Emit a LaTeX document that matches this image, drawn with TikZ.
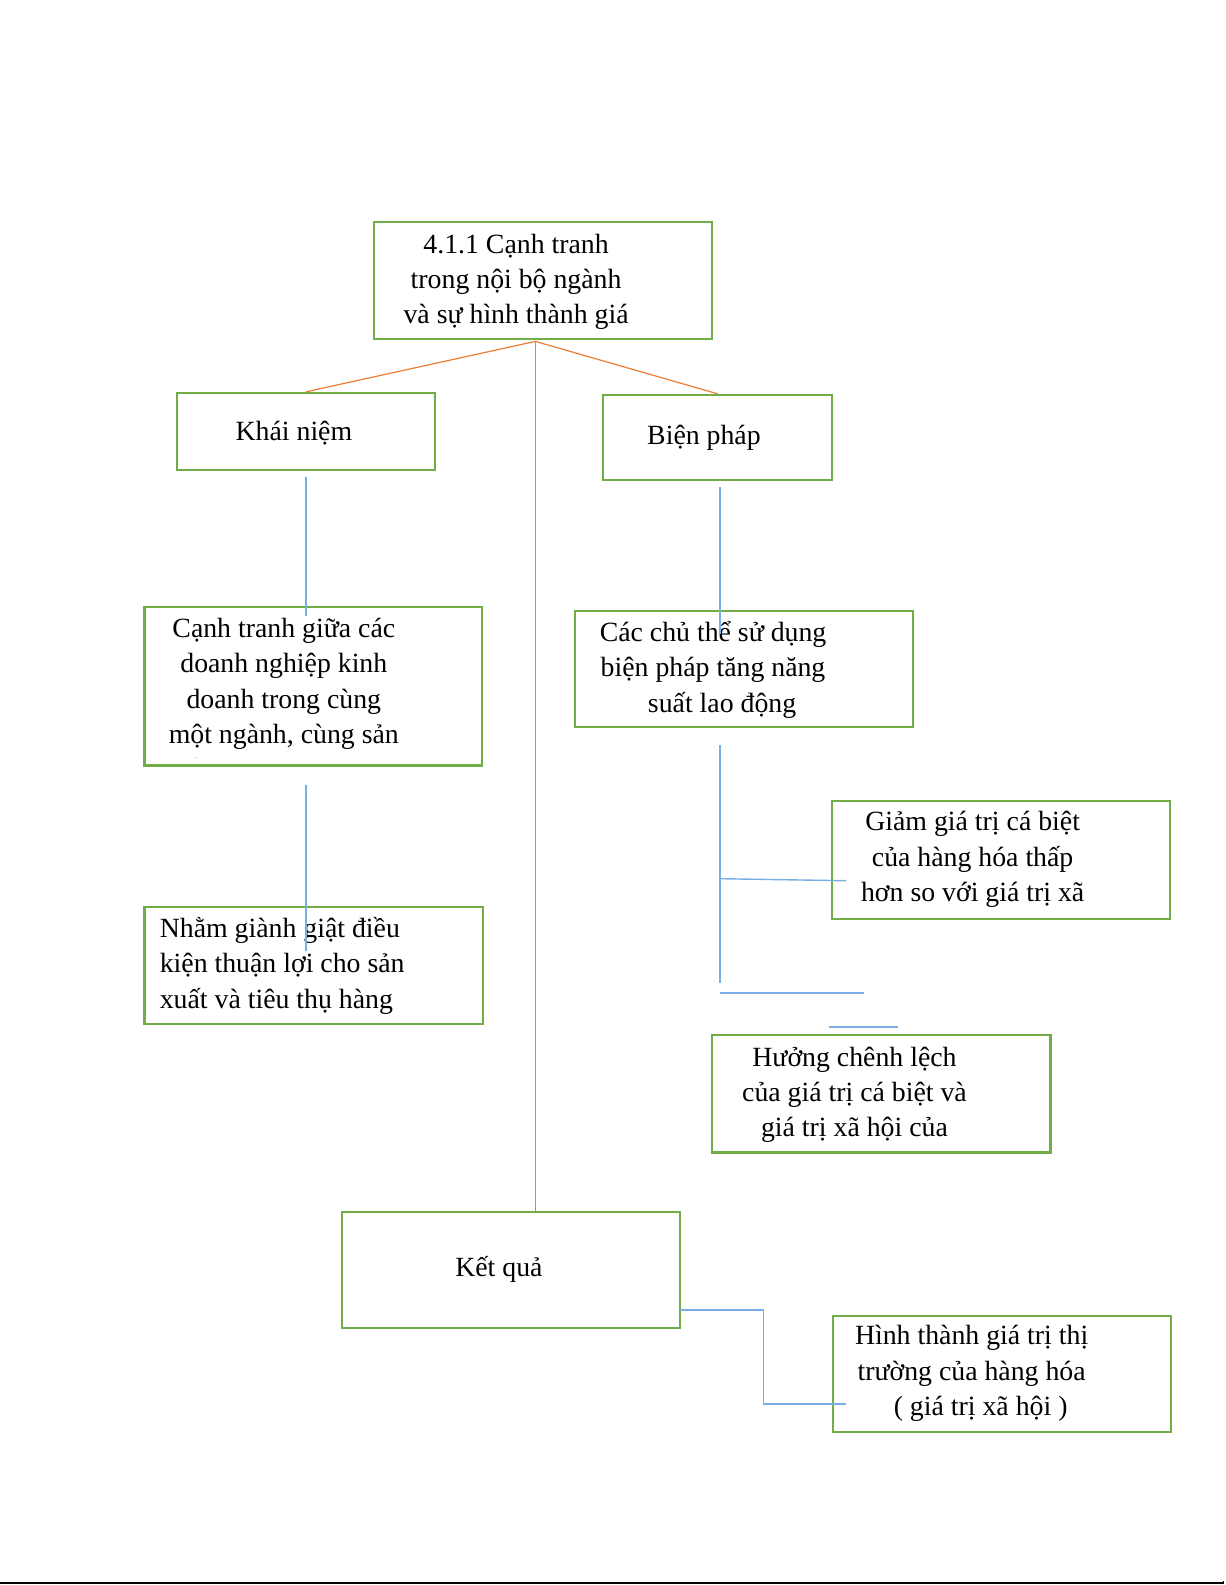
\documentclass[tikz,border=0pt]{standalone}
\usepackage{fontspec}
\setmainfont{Liberation Serif}
\definecolor{boxgreen}{HTML}{70AD47}
\definecolor{lineorange}{HTML}{ED7D31}
\definecolor{lineblue}{HTML}{78AEE2}
\begin{document}
\begin{tikzpicture}[x=1.01pt,y=-1.01pt,
  box/.style={draw=boxgreen,line width=2.2pt,inner sep=0pt},
  lbl/.style={inner sep=0pt,align=center,font=\fontsize{27.8}{35.4}\selectfont},
  oline/.style={draw=lineorange,line width=1.2pt},
  bline/.style={draw=lineblue,line width=1.4pt}]
\useasboundingbox (0,0) rectangle (1213,1569.3);

% boxes
\node[box,minimum width=338.35pt,minimum height=117.16pt] (top) at (537.5,278) {};
\node[box,minimum width=258.56pt,minimum height=76.76pt] (kn) at (303,427) {};
\node[box,minimum width=229.27pt,minimum height=84.84pt] (bp) at (710.5,433) {};
\node[box,minimum width=337.34pt,minimum height=158.57pt] (ct) at (310,679.5) {};
\node[box,minimum width=338.35pt,minimum height=117.16pt] (nh) at (310.5,956) {};
\node[box,minimum width=338.35pt,minimum height=116.15pt] (cc) at (736.5,662.5) {};
\node[box,minimum width=337.34pt,minimum height=118.17pt] (gg) at (991,851.5) {};
\node[box,minimum width=338.35pt,minimum height=117.16pt] (hc) at (872.5,1083) {};
\node[box,minimum width=337.34pt,minimum height=116.15pt] (kq) at (506,1257.5) {};
\node[box,minimum width=337.34pt,minimum height=116.15pt] (ht) at (992,1360.5) {};

% texts
\node[lbl] (top-t) at (511,279) {4.1.1 Cạnh tranh\\trong nội bộ ngành\\và sự hình thành giá};
\node[lbl] (kn-t) at (291,429) {Khái niệm};
\node[lbl] (bp-t) at (697,433) {Biện pháp};
\begin{scope}
  \clip (143,601) rectangle (477,750);
  \node[lbl] (ct-t) at (281,694.5) {Cạnh tranh giữa các\\doanh nghiệp kinh\\doanh trong cùng\\một ngành, cùng sản\\xuất một loại hàng hóa};
\end{scope}
\node[lbl,align=left,anchor=west] (nh-t) at (158,956) {Nhằm giành giật điều\\kiện thuận lợi cho sản\\xuất và tiêu thụ hàng};
\node[lbl] (cc-t) at (706,663) {Các chủ thể sử dụng\\biện pháp tăng năng\\\hspace*{18pt}suất lao động};
\node[lbl] (gg-t) at (963,851) {Giảm giá trị cá biệt\\của hàng hóa thấp\\hơn so với giá trị xã};
\node[lbl] (hc-t) at (846,1084) {Hưởng chênh lệch\\của giá trị cá biệt và\\giá trị xã hội của};
\node[lbl] (kq-t) at (494,1257) {Kết quả};
\node[lbl] (ht-t) at (962,1360) {Hình thành giá trị thị\\trường của hàng hóa\\\hspace*{18pt}( giá trị xã hội )};

% orange connectors
\coordinate (top-j) at (530,338);
\draw[oline] (top-j) -- (kn.north);
\draw[oline] (top-j) -- (bp.north);
\draw[oline] (top-j) -- (top-j |- kq.north);

% blue connectors
\coordinate (kn-o) at (303,472);
\coordinate (ct-i) at (303,610);
\draw[bline] (kn-o) -- (ct-i);
\coordinate (ct-o) at (303,777);
\coordinate (nh-i) at (303,942);
\draw[bline] (ct-o) -- (nh-i);
\coordinate (bp-o) at (713,482);
\coordinate (cc-i) at (713,628);
\draw[bline] (bp-o) -- (cc-i);
\coordinate (cc-o) at (713,738);
\coordinate (v-end) at (713,973);
\draw[bline] (cc-o) -- (v-end);
\coordinate (v-mid) at (713,870);
\coordinate (gg-i) at (838,872);
\draw[bline] (v-mid) -- (gg-i);
\coordinate (h1a) at (713,983);
\coordinate (h1b) at (855,983);
\draw[bline] (h1a) -- (h1b);
\coordinate (h2a) at (821,1017);
\coordinate (h2b) at (889,1017);
\draw[bline] (h2a) -- (h2b);
\coordinate (kq-o) at (673,1297);
\coordinate (ht-i) at (838,1390);
\draw[bline] (kq-o) -- ++(83,0) |- (ht-i);

% bottom rule
\coordinate (rule-a) at (0,1567.3);
\coordinate (rule-b) at (1212,1567.3);
\draw[line width=1.6pt] (rule-a) -- (rule-b);
\draw[line width=1pt] (1211,1567.3) -- (1211,1565);
\end{tikzpicture}
\end{document}
